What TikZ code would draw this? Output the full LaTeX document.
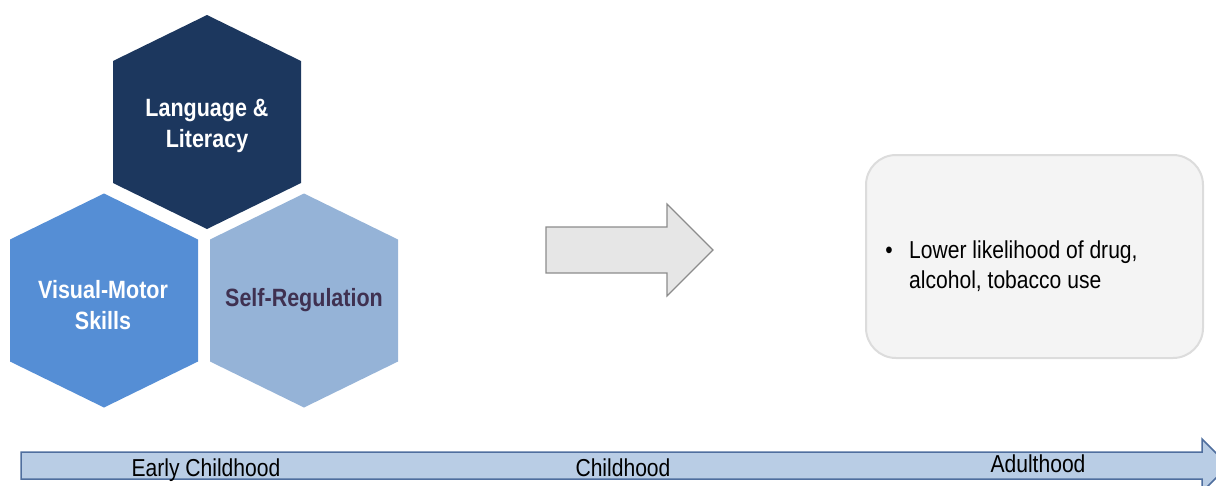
\documentclass[tikz,border=0pt]{standalone}
\usepackage{fontspec}
\setmainfont[FakeStretch=0.86]{Liberation Sans}

\begin{document}
\begin{tikzpicture}[x=1pt,y=-1pt,
	hexlabel/.style={align=center,inner sep=0pt,font=\bfseries\fontsize{25}{31}\selectfont},
	tllabel/.style={anchor=base,inner sep=0pt,font=\fontsize{24.5}{30}\selectfont}]

\definecolor{navy}{HTML}{1C375E}
\definecolor{midblue}{HTML}{558ED5}
\definecolor{paleblue}{HTML}{95B3D7}
\definecolor{plum}{HTML}{3F3151}
\definecolor{arrowfill}{HTML}{E6E6E6}
\definecolor{arrowline}{HTML}{8C8C8C}
\definecolor{boxfill}{HTML}{F4F4F4}
\definecolor{boxline}{HTML}{DCDCDC}
\definecolor{tlfill}{HTML}{B9CDE5}
\definecolor{tlline}{HTML}{4F6E9E}

\useasboundingbox (0,0) rectangle (1216,485);
\clip (0,0) rectangle (1216,485);

% hexagons
\foreach \cx/\cy/\col in {207/122/navy,104/300.5/midblue,304/300.5/paleblue}{
	\fill[color=\col] (\cx,\cy) ++(0,-107) -- ++(94,46) -- ++(0,122)
		-- ++(-94,46) -- ++(-94,-46) -- ++(0,-122) -- cycle;
}

\node[hexlabel,text=white] (lang) at (207,126) {Language \&\\Literacy};
\node[hexlabel,text=white] (vismotor) at (103,305) {Visual-Motor\\Skills};
\node[hexlabel,text=plum] (selfreg) at (304,300) {Self-Regulation};

% block arrow
\draw[color=arrowline,fill=arrowfill,line width=1.2pt]
	(546,227)--(667,227)--(667,204)--(713,250)--(667,296)--(667,273)--(546,273)--cycle;

% outcome box
\node[draw=boxline,fill=boxfill,line width=2pt,rounded corners=30pt,
	minimum width=337pt,minimum height=203pt] (outcome) at (1034.5,256.5) {};
\node[tllabel,anchor=base west,align=left] (outtext) at (909,288)
	{Lower likelihood of drug,\\alcohol, tobacco use};
\node[tllabel] (bullet) at (889,258) {\textbullet};

% timeline
\draw[color=tlline,fill=tlfill,line width=1.5pt]
	(21,452)--(1202,452)--(1202,439)--(1228.5,465.5)--(1202,492)--(1202,479)--(21,479)--cycle;

\node[tllabel] (early) at (206,476) {Early Childhood};
\node[tllabel] (child) at (623,476) {Childhood};
\node[tllabel] (adult) at (1038,472) {Adulthood};

\end{tikzpicture}
\end{document}
